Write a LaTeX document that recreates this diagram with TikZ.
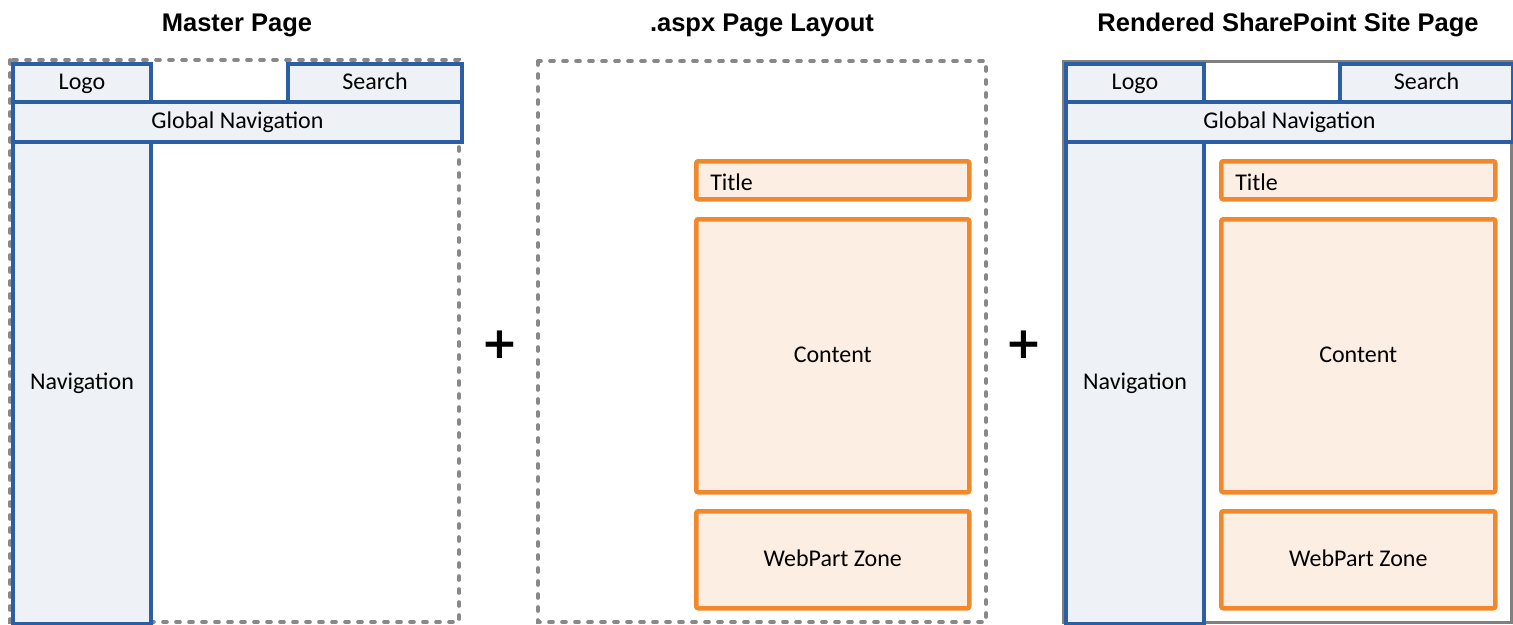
\documentclass[tikz,border=0pt]{standalone}
\usepackage{fontspec}
\setmainfont{Carlito}
\newfontfamily\headfont{Liberation Sans}
\newfontfamily\plusfont{DejaVu Sans}
\definecolor{bblue}{HTML}{2C5EA6}
\definecolor{bfill}{HTML}{EEF1F6}
\definecolor{oorange}{HTML}{F2882C}
\definecolor{ofill}{HTML}{FCEEE3}
\definecolor{dgray}{HTML}{888888}
\definecolor{fgray}{HTML}{808080}
\tikzset{
  bluebox/.style={draw=bblue, fill=bfill, line width=4pt, inner sep=0pt, anchor=north west, text height=18pt, text depth=5pt, font=\fontsize{24}{28}\selectfont},
  orangebox/.style={draw=oorange, fill=ofill, line width=4.5pt, rounded corners=2pt, inner sep=0pt, anchor=north west, text height=18pt, text depth=5pt, font=\fontsize{24}{28}\selectfont},
  titlebox/.style={orangebox, text height=26pt, text depth=5pt, align=left},
  dashframe/.style={draw=dgray, line width=3.6pt, dash pattern=on 4pt off 9pt, line cap=round},
  solidframe/.style={draw=fgray, line width=3pt},
  header/.style={font=\headfont\bfseries\fontsize{25.5}{30}\selectfont, anchor=base, inner sep=0pt},
  plussign/.style={font=\plusfont\bfseries\fontsize{44}{48}\selectfont, inner sep=0pt}
}
\begin{document}
\begin{tikzpicture}[x=1pt,y=-1pt]
\useasboundingbox (0,0) rectangle (1513,624);
% headers
\node[header] (h1) at (237,31) {Master Page};
\node[header] (h2) at (762,31) {.aspx Page Layout};
\node[header] (h3) at (1288,31) {Rendered SharePoint Site Page};
% panel 1
\draw[dashframe] (10,60) rectangle (459,622);
\node[bluebox, minimum width=138pt, minimum height=38pt] (logo1) at (11,62) {Logo};
\node[bluebox, minimum width=174pt, minimum height=38pt] (search1) at (286,62) {Search};
\node[bluebox, minimum width=449pt, minimum height=40pt] (gnav1) at (11,100) {Global Navigation};
\node[bluebox, minimum width=138pt, minimum height=482pt] (nav1) at (11,140) {Navigation};
% plus 1
\node[plussign] (p1) at (500,345) {+};
% panel 2
\draw[dashframe] (538,61) rectangle (986,622);
\node[titlebox, minimum width=273pt, minimum height=38pt, text width=245pt] (title2) at (694,159) {Title};
\node[orangebox, minimum width=273pt, minimum height=273pt] (content2) at (694,217) {Content};
\node[orangebox, minimum width=273pt, minimum height=97pt] (wp2) at (694,509) {WebPart Zone};
% plus 2
\node[plussign] (p2) at (1024,345) {+};
% panel 3
\draw[solidframe] (1063,61) rectangle (1511.5,622.5);
\node[bluebox, minimum width=138pt, minimum height=38pt] (logo3) at (1064,62) {Logo};
\node[bluebox, minimum width=173pt, minimum height=38pt] (search3) at (1338,62) {Search};
\node[bluebox, minimum width=447pt, minimum height=40pt] (gnav3) at (1064,100) {Global Navigation};
\node[bluebox, minimum width=138pt, minimum height=482pt] (nav3) at (1064,140) {Navigation};
\node[titlebox, minimum width=274pt, minimum height=38pt, text width=246pt] (title3) at (1219,159) {Title};
\node[orangebox, minimum width=274pt, minimum height=273pt] (content3) at (1219,217) {Content};
\node[orangebox, minimum width=274pt, minimum height=97pt] (wp3) at (1219,509) {WebPart Zone};
\end{tikzpicture}
\end{document}
